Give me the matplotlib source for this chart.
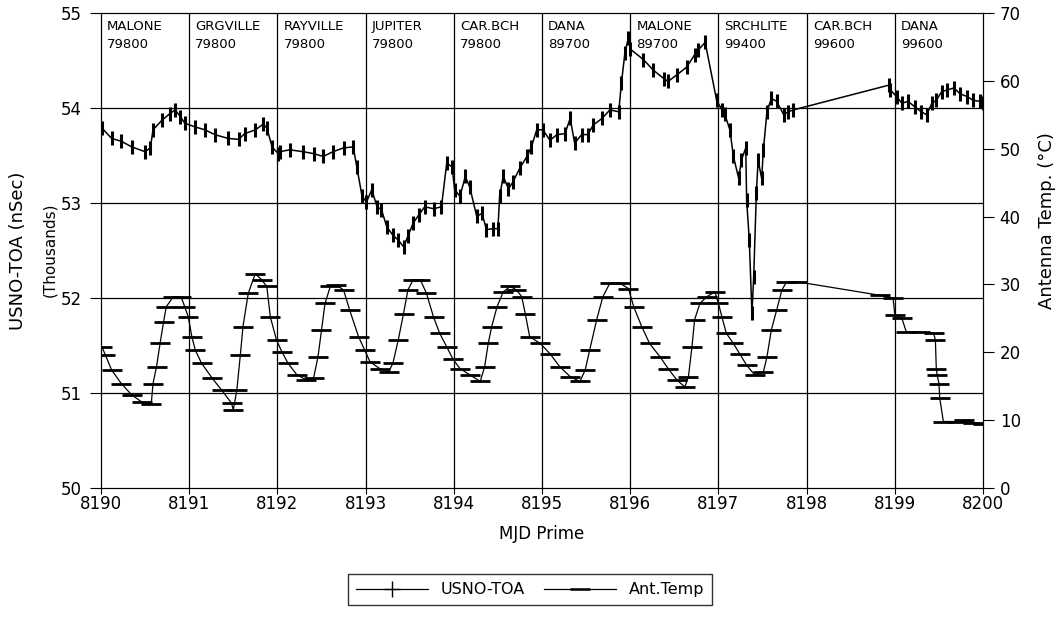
import numpy as np
import matplotlib.pyplot as plt
from matplotlib.lines import Line2D

# USNO-TOA (thousands of nSec), left axis
toa_mjd = [8190.01, 8190.12, 8190.23, 8190.35, 8190.50, 8190.56, 8190.59, 8190.69, 8190.78, 8190.84,
           8190.90, 8190.95, 8191.07, 8191.18, 8191.29, 8191.44, 8191.56, 8191.63, 8191.75, 8191.84,
           8191.88, 8191.94, 8192.01, 8192.03, 8192.14, 8192.29, 8192.41, 8192.52, 8192.63, 8192.75,
           8192.86, 8192.90, 8192.96, 8193.01, 8193.07, 8193.13, 8193.18, 8193.24, 8193.31, 8193.37,
           8193.43, 8193.48, 8193.54, 8193.60, 8193.67, 8193.77, 8193.86, 8193.92, 8193.98, 8194.01,
           8194.07, 8194.13, 8194.18, 8194.26, 8194.32, 8194.37, 8194.45, 8194.50, 8194.52, 8194.56,
           8194.62, 8194.67, 8194.75, 8194.83, 8194.88, 8194.94, 8195.01, 8195.09, 8195.17, 8195.26,
           8195.32, 8195.37, 8195.45, 8195.52, 8195.58, 8195.68, 8195.77, 8195.87, 8195.90, 8195.94,
           8195.98, 8196.00, 8196.15, 8196.26, 8196.38, 8196.43, 8196.53, 8196.64, 8196.73, 8196.77,
           8196.85, 8196.98, 8197.04, 8197.07, 8197.13, 8197.17, 8197.23, 8197.26, 8197.31, 8197.32,
           8197.35, 8197.38, 8197.40, 8197.43, 8197.45, 8197.49, 8197.51, 8197.55, 8197.60, 8197.66,
           8197.74, 8197.79, 8197.85, 8198.93, 8198.95, 8199.02, 8199.08, 8199.15, 8199.23, 8199.30,
           8199.36, 8199.42, 8199.47, 8199.53, 8199.59, 8199.67, 8199.74, 8199.82, 8199.89, 8199.97,
           8200.00]
toa_val = [53.79, 53.68, 53.65, 53.59, 53.54, 53.58, 53.77, 53.87, 53.94, 53.98,
           53.91, 53.84, 53.80, 53.77, 53.72, 53.68, 53.67, 53.73, 53.77, 53.83,
           53.79, 53.59, 53.52, 53.54, 53.56, 53.54, 53.52, 53.49, 53.54, 53.58,
           53.59, 53.38, 53.07, 53.01, 53.14, 52.96, 52.93, 52.75, 52.66, 52.61,
           52.54, 52.65, 52.79, 52.87, 52.96, 52.94, 52.96, 53.42, 53.38, 53.14,
           53.07, 53.28, 53.17, 52.86, 52.89, 52.72, 52.73, 52.73, 53.07, 53.28,
           53.15, 53.22, 53.37, 53.49, 53.59, 53.77, 53.77, 53.66, 53.72, 53.73,
           53.89, 53.63, 53.72, 53.72, 53.82, 53.89, 53.98, 53.96, 54.26, 54.58,
           54.74, 54.62, 54.51, 54.40, 54.31, 54.28, 54.35, 54.43, 54.56, 54.61,
           54.69, 54.08, 53.98, 53.94, 53.77, 53.49, 53.26, 53.45, 53.58, 53.03,
           52.61, 51.84, 52.22, 53.10, 53.45, 53.26, 53.56, 53.96, 54.10, 54.07,
           53.93, 53.96, 53.98, 54.24, 54.19, 54.12, 54.05, 54.07, 54.01, 53.96,
           53.93, 54.05, 54.08, 54.17, 54.19, 54.21, 54.15, 54.12, 54.08, 54.07,
           54.05]

# Antenna temperature (deg C), right axis
temp_mjd = [8190.01, 8190.05, 8190.12, 8190.23, 8190.35, 8190.46, 8190.57, 8190.59, 8190.63, 8190.67,
            8190.71, 8190.74, 8190.82, 8190.91, 8190.95, 8190.99, 8191.03, 8191.07, 8191.14, 8191.26,
            8191.37, 8191.48, 8191.50, 8191.54, 8191.58, 8191.61, 8191.67, 8191.75, 8191.82, 8191.88,
            8191.92, 8191.99, 8192.05, 8192.12, 8192.22, 8192.33, 8192.41, 8192.46, 8192.50, 8192.54,
            8192.60, 8192.67, 8192.75, 8192.82, 8192.92, 8192.99, 8193.05, 8193.16, 8193.26, 8193.31,
            8193.37, 8193.43, 8193.48, 8193.54, 8193.62, 8193.69, 8193.77, 8193.84, 8193.92, 8193.99,
            8194.07, 8194.18, 8194.30, 8194.35, 8194.39, 8194.43, 8194.49, 8194.56, 8194.64, 8194.71,
            8194.77, 8194.81, 8194.86, 8194.98, 8195.09, 8195.20, 8195.32, 8195.43, 8195.49, 8195.54,
            8195.62, 8195.69, 8195.77, 8195.88, 8195.98, 8196.04, 8196.13, 8196.22, 8196.34, 8196.43,
            8196.53, 8196.62, 8196.66, 8196.70, 8196.73, 8196.79, 8196.87, 8196.96, 8197.00, 8197.04,
            8197.09, 8197.17, 8197.24, 8197.32, 8197.41, 8197.51, 8197.55, 8197.60, 8197.66, 8197.72,
            8197.77, 8197.89, 8198.83, 8198.98, 8199.00, 8199.08, 8199.13, 8199.29, 8199.44, 8199.46,
            8199.47, 8199.48, 8199.50, 8199.51, 8199.55, 8199.70, 8199.78, 8199.89, 8200.00]
temp_val = [20.8, 19.6, 17.4, 15.4, 13.7, 12.7, 12.4, 15.4, 17.9, 21.3,
            24.5, 26.7, 28.2, 28.1, 26.7, 25.2, 22.3, 20.3, 18.4, 16.2,
            14.4, 12.5, 11.5, 14.4, 19.6, 23.8, 28.7, 31.6, 30.7, 29.7,
            25.2, 21.8, 20.1, 18.4, 16.7, 15.9, 16.2, 19.3, 23.3, 27.2,
            29.7, 29.9, 29.2, 26.2, 22.3, 20.3, 18.6, 17.6, 17.1, 18.4,
            21.8, 25.7, 29.2, 30.7, 30.7, 28.7, 25.2, 22.8, 20.8, 19.0,
            17.6, 16.7, 15.7, 17.9, 21.3, 23.8, 26.7, 28.9, 29.7, 29.2,
            28.2, 25.7, 22.3, 21.3, 19.8, 17.9, 16.4, 15.7, 17.4, 20.3,
            24.8, 28.2, 30.2, 30.2, 29.4, 26.7, 23.8, 21.3, 19.3, 17.6,
            15.9, 14.9, 16.4, 20.8, 24.8, 27.2, 28.2, 28.9, 27.2, 25.2,
            22.8, 21.3, 19.8, 18.1, 16.7, 17.1, 19.3, 23.3, 26.2, 29.2,
            30.3, 30.4, 28.4, 28.0, 25.5, 25.0, 23.0, 23.0, 22.8, 21.8,
            17.6, 16.7, 15.4, 13.2, 9.8, 9.8, 10.0, 9.6, 9.5]

stations = ["MALONE", "GRGVILLE", "RAYVILLE", "JUPITER", "CAR.BCH",
            "DANA", "MALONE", "SRCHLITE", "CAR.BCH", "DANA"]
codes = ["79800", "79800", "79800", "79800", "79800",
         "89700", "89700", "99400", "99600", "99600"]

plt.rcParams['font.family'] = 'DejaVu Sans'

fig = plt.figure(figsize=(10.64, 6.37), dpi=100)
ax = fig.add_axes([0.0949, 0.2339, 0.8290, 0.7457])
ax2 = ax.twinx()

ax.set_xlim(8190, 8200)
ax.set_ylim(50, 55)
ax2.set_ylim(0, 70)

# grid
for d in range(8191, 8200):
    ax.axvline(d, color='black', lw=0.9, zorder=1)
for v in [51, 52, 53, 54]:
    ax.axhline(v, color='black', lw=0.9, zorder=1)

ax.plot(toa_mjd, toa_val, color='black', lw=1.1, marker='|', ms=10, mew=2.2, zorder=3)
ax2.plot(temp_mjd, temp_val, color='black', lw=0.9, marker='_', ms=15, mew=2.0, zorder=3)

for i, (s, c) in enumerate(zip(stations, codes)):
    ax.text(8190 + i + 0.07, 54.93, s + "\n" + c, ha='left', va='top',
            fontsize=9.5, linespacing=1.5)

ax.set_xticks(range(8190, 8201))
ax.set_yticks([50, 51, 52, 53, 54, 55])
ax2.set_yticks(range(0, 71, 10))
ax.tick_params(axis='y', labelsize=12, direction='out', length=8, pad=6)
ax.tick_params(axis='x', labelsize=12, direction='out', length=4, pad=1)
ax2.tick_params(labelsize=12, direction='out', length=8, pad=4)

ax.set_xlabel("MJD Prime", fontsize=12)
ax.xaxis.set_label_coords(0.5, -0.078)
ax.set_ylabel("USNO-TOA (nSec)", fontsize=13)
ax.yaxis.set_label_coords(-0.084, 0.5)
fig.text(0.047, 0.6075, "(Thousands)", rotation=90, fontsize=11, ha='center', va='center')
ax2.set_ylabel("Antenna Temp. (°C)", fontsize=13)
ax2.yaxis.set_label_coords(1.062, 0.564)

handles = [Line2D([], [], color='black', lw=0.9, marker='+', ms=12, mew=1.0),
           Line2D([], [], color='black', lw=0.9, marker='_', ms=14, mew=1.8)]
fig.legend(handles, ["USNO-TOA", "Ant.Temp"], loc='center', bbox_to_anchor=(0.498, 0.074),
           ncol=2, frameon=True, fancybox=False, edgecolor='black', fontsize=11.5,
           handlelength=4.5, columnspacing=1.2, borderpad=0.5)

fig.savefig("out.png", dpi=100)
